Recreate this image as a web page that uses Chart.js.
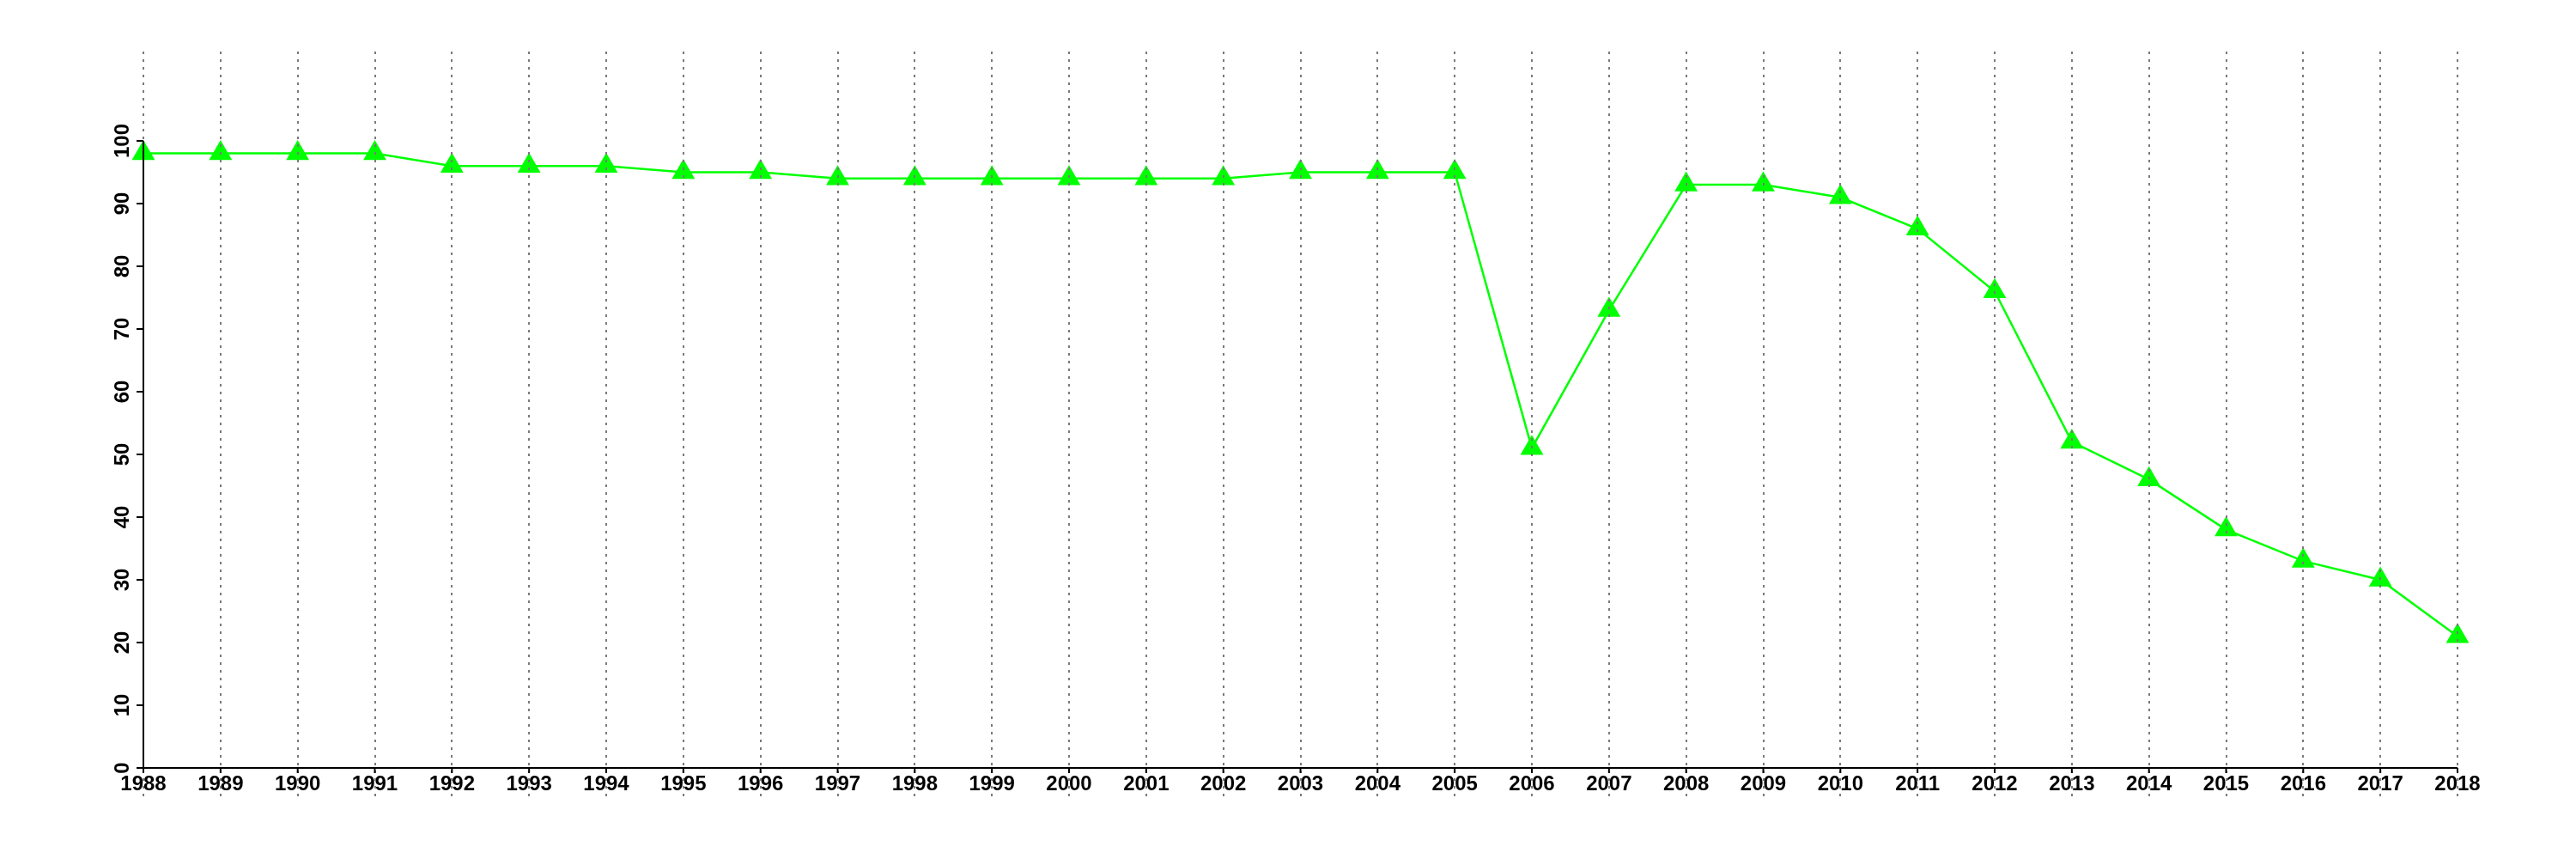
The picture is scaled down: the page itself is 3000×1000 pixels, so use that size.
<!DOCTYPE html>
<html>
<head>
<meta charset="utf-8">
<script src="https://cdn.jsdelivr.net/npm/chart.js@4/dist/chart.umd.min.js"></script>
<style>
  body { margin: 0; background: #fff; }
  #wrap { width: 3000px; height: 1000px; position: relative; }
</style>
</head>
<body>
<div id="wrap"><canvas id="lineChart"></canvas></div>
<script>
/* ── Data ── */
const years = [
  "1988", "1989", "1990", "1991", "1992", "1993", "1994", "1995", "1996",
  "1997", "1998", "1999", "2000", "2001", "2002", "2003", "2004", "2005",
  "2006", "2007", "2008", "2009", "2010", "2011", "2012", "2013", "2014",
  "2015", "2016", "2017", "2018",
];
const values = [
  98, 98, 98, 98, 96, 96, 96, 95, 95, 94, 94, 94, 94, 94, 94, 95, 95, 95,
  51, 73, 93, 93, 91, 86, 76, 52, 46, 38, 33, 30, 21,
];
const yTicks = [0, 10, 20, 30, 40, 50, 60, 70, 80, 90, 100];

/* ── Styles ── */
const LINE = "#00ff00";
const GRID = "#7a7a7a";
const FONT = "bold 24px 'Liberation Sans', Arial, sans-serif";

/* ── Axes, ticks and dashed grid drawn from the scales ── */
const framePlugin = {
  id: "frame",
  afterDatasetsDraw(chart) {
    const { ctx, chartArea } = chart;
    const xs = chart.scales.x;
    const ys = chart.scales.y;
    const x0 = xs.getPixelForValue(0);
    const xN = xs.getPixelForValue(years.length - 1);
    const y0 = ys.getPixelForValue(0);
    const yTop = ys.getPixelForValue(yTicks[yTicks.length - 1]);

    ctx.save();
    // tick labels
    ctx.fillStyle = "#000";
    ctx.font = FONT;
    ctx.textAlign = "center";
    ctx.textBaseline = "middle";
    years.forEach((lbl, i) => {
      ctx.fillText(lbl, xs.getPixelForValue(i), y0 + 19);
    });
    yTicks.forEach((v) => {
      ctx.save();
      ctx.translate(x0 - 24, ys.getPixelForValue(v));
      ctx.rotate(-Math.PI / 2);
      ctx.fillText(String(v), 0, 0);
      ctx.restore();
    });

    // dashed vertical grid
    ctx.strokeStyle = GRID;
    ctx.lineWidth = 2;
    ctx.setLineDash([3, 6]);
    ctx.beginPath();
    years.forEach((_, i) => {
      const x = Math.round(xs.getPixelForValue(i));
      ctx.moveTo(x, chartArea.top);
      ctx.lineTo(x, y0 + 33);
    });
    ctx.stroke();

    // axis lines and tick marks
    ctx.setLineDash([]);
    ctx.strokeStyle = "#000";
    ctx.lineWidth = 2;
    ctx.beginPath();
    ctx.moveTo(x0, y0);
    ctx.lineTo(xN, y0);
    ctx.moveTo(x0, y0);
    ctx.lineTo(x0, yTop);
    years.forEach((_, i) => {
      const x = xs.getPixelForValue(i);
      ctx.moveTo(x, y0);
      ctx.lineTo(x, y0 + 6);
    });
    yTicks.forEach((v) => {
      const y = ys.getPixelForValue(v);
      ctx.moveTo(x0, y);
      ctx.lineTo(x0 - 8, y);
    });
    ctx.stroke();
    ctx.restore();
  },
};

const ctx = document.getElementById("lineChart").getContext("2d");
new Chart(ctx, {
  type: "line",
  data: {
    labels: years,
    datasets: [
      {
        data: values,
        borderColor: LINE,
        borderWidth: 2.5,
        tension: 0,
        fill: false,
        clip: false,
        pointStyle: "triangle",
        pointRadius: 15.5,
        pointBackgroundColor: LINE,
        pointBorderColor: LINE,
        pointBorderWidth: 0,
      },
    ],
  },
  options: {
    responsive: true,
    maintainAspectRatio: false,
    animation: false,
    layout: {
      padding: { left: 167, right: 138, top: 60, bottom: 106 },
    },
    plugins: {
      legend: { display: false },
      tooltip: { enabled: false },
    },
    scales: {
      x: { type: "category", offset: false, display: false },
      y: { min: 0, max: 114.25, display: false },
    },
  },
  plugins: [framePlugin],
});
</script>
</body>
</html>
